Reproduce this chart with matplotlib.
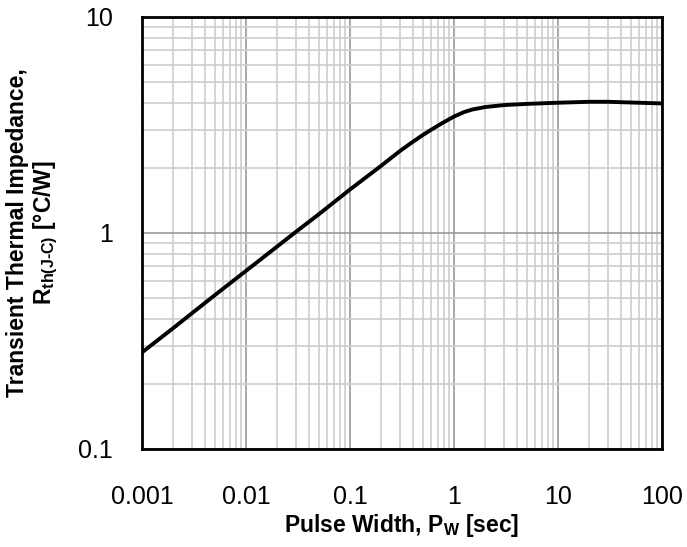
import matplotlib
matplotlib.use("Agg")
import matplotlib.pyplot as plt
from matplotlib.ticker import LogLocator, FixedLocator, FixedFormatter, NullFormatter

# Transient thermal impedance vs. pulse width
pulse_width = [0.001, 0.002, 0.003, 0.005, 0.01, 0.02, 0.03, 0.05, 0.1, 0.2,
               0.3, 0.4, 0.5, 0.6, 0.7, 0.8, 1.0, 1.25, 1.5, 2.0, 3.0, 5.0,
               10.0, 20.0, 30.0, 50.0, 100.0]
rth_jc = [0.28, 0.363, 0.424, 0.515, 0.668, 0.867, 1.01, 1.22, 1.59, 2.05,
          2.39, 2.64, 2.84, 3.00, 3.14, 3.26, 3.46, 3.63, 3.73, 3.83, 3.91, 3.96,
          4.01, 4.05, 4.05, 4.02, 3.98]

x_ticks = [0.001, 0.01, 0.1, 1, 10, 100]
x_tick_labels = ["0.001", "0.01", "0.1", "1", "10", "100"]
y_ticks = [0.1, 1, 10]
y_tick_labels = ["0.1", "1", "10"]

plt.rcParams["font.family"] = ["Liberation Sans", "DejaVu Sans"]
plt.rcParams["mathtext.fontset"] = "custom"
plt.rcParams["mathtext.rm"] = "Liberation Sans:bold"
plt.rcParams["mathtext.it"] = "Liberation Sans:bold"
plt.rcParams["mathtext.bf"] = "Liberation Sans:bold"

fig = plt.figure(figsize=(6.87, 5.47), dpi=100)
ax = fig.add_axes([142 / 687, 1 - 449 / 547, 520 / 687, 432 / 547])

ax.set_xscale("log")
ax.set_yscale("log")
ax.set_xlim(0.001, 100)
ax.set_ylim(0.1, 10)

ax.plot(pulse_width, rth_jc, color="black", lw=2.8, solid_joinstyle="round",
        solid_capstyle="butt", zorder=3)

ax.xaxis.set_major_locator(FixedLocator(x_ticks))
ax.xaxis.set_major_formatter(FixedFormatter(x_tick_labels))
ax.yaxis.set_major_locator(FixedLocator(y_ticks))
ax.yaxis.set_major_formatter(FixedFormatter(y_tick_labels))
ax.xaxis.set_minor_locator(LogLocator(base=10, subs=range(2, 10), numticks=20))
ax.yaxis.set_minor_locator(LogLocator(base=10, subs=range(2, 10), numticks=20))
ax.xaxis.set_minor_formatter(NullFormatter())
ax.yaxis.set_minor_formatter(NullFormatter())

ax.grid(which="major", color="#9a9a9a", lw=1.2, zorder=1)
ax.grid(which="minor", color="#cdcdcd", lw=1.2, zorder=1)
ax.set_axisbelow(True)

ax.tick_params(which="both", length=0)
ax.tick_params(axis="x", labelsize=18, pad=26)
ax.tick_params(axis="y", labelsize=18, pad=21)

for spine in ax.spines.values():
    spine.set_linewidth(2.0)
    spine.set_color("black")

ax.set_xlabel(r"Pulse Width, P$_{\mathrm{W}}$ [sec]", fontsize=16.5, fontweight="bold", labelpad=2)
ax.set_ylabel("Transient Thermal Impedance,\n" + r"R$_{\mathrm{th(J\text{-}C)}}$ [°C/W]",
              fontsize=16.5, fontweight="bold", labelpad=13, linespacing=1.15)

fig.savefig("out.png", dpi=100)
